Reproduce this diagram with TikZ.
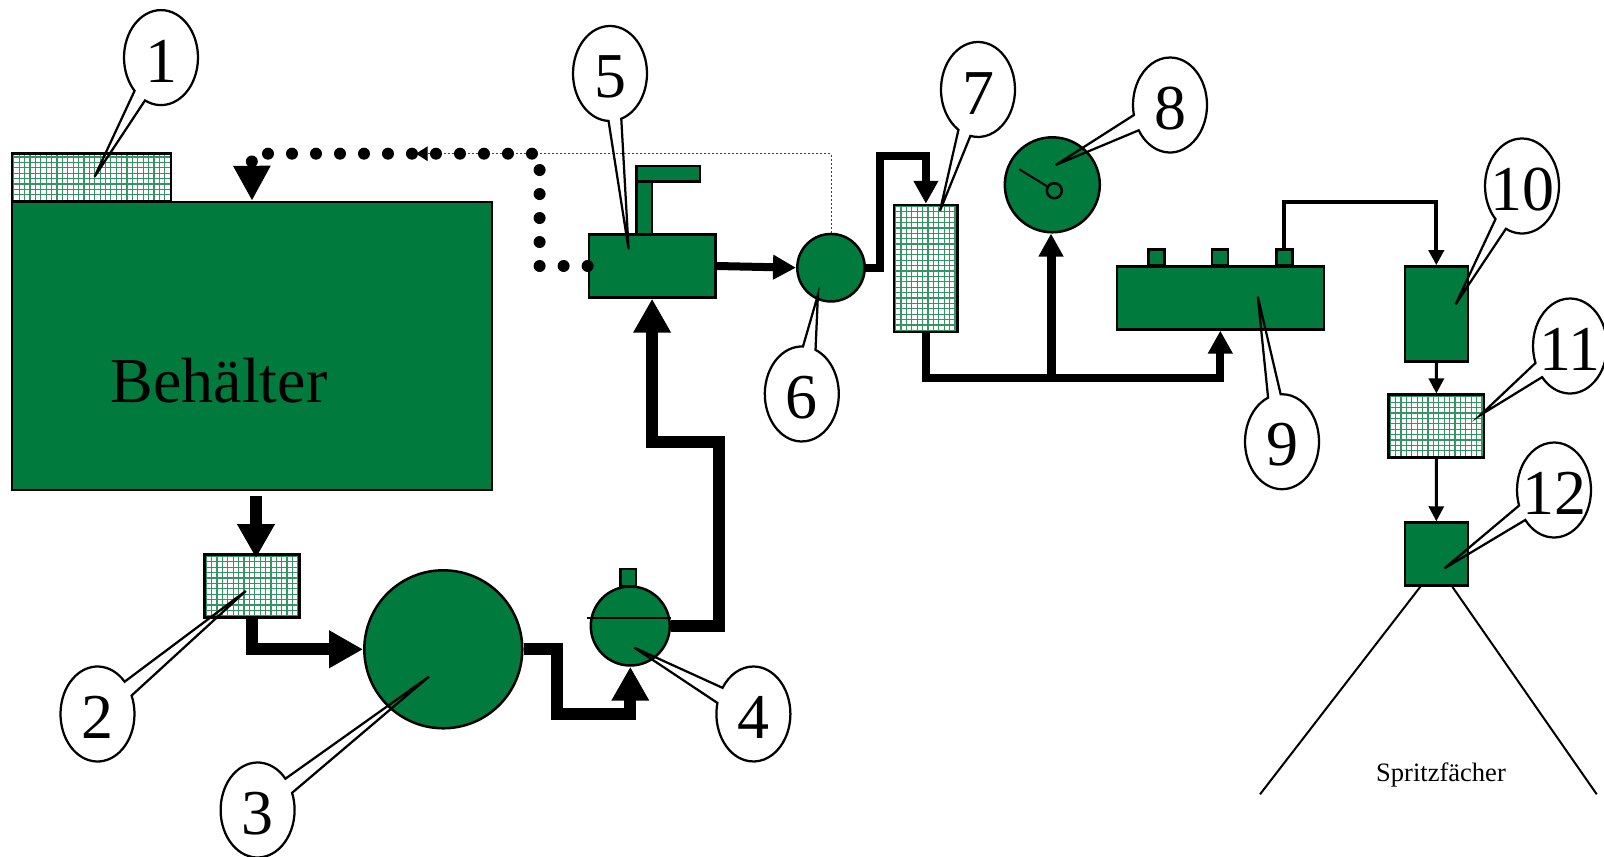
\documentclass[tikz,border=0pt]{standalone}
\usepackage{fontspec}
\setmainfont{Liberation Serif}
\usetikzlibrary{arrows.meta,shapes.callouts}
\definecolor{tankgreen}{RGB}{0,122,61}
\tikzset{
  greenbox/.style={draw,fill=tankgreen,line width=0.05cm,inner sep=0pt},
  gridline/.style={tankgreen!80,line width=0.024cm},
  gridbox/.style={draw,line width=0.05cm,inner sep=0pt,
    path picture={
      \foreach \gk in {0,...,31} {
        \draw[gridline] ([xshift=\gk*0.108cm+0.03cm]path picture bounding box.south west) -- ([xshift=\gk*0.108cm+0.03cm]path picture bounding box.north west);
        \draw[gridline] ([yshift=\gk*0.108cm+0.03cm]path picture bounding box.south west) -- ([yshift=\gk*0.108cm+0.03cm]path picture bounding box.south east);
      }
    }},
  numtag/.style={ellipse callout,draw,line width=0.045cm,callout pointer arc=20,
    minimum width=1.48cm,minimum height=1.9cm,inner sep=0pt,text height=28pt,
    font=\fontsize{36.4}{40}\selectfont},
  flowheavy/.style={line width=0.24cm,-{Triangle[length=0.68cm,width=0.71cm]}},
  flowmedium/.style={line width=0.16cm,-{Triangle[length=0.46cm,width=0.47cm]}},
  flowlight/.style={line width=0.08cm,-{Triangle[length=0.3cm,width=0.3cm]}},
  flowthin/.style={line width=0.06cm,-{Triangle[length=0.3cm,width=0.3cm]}},
}
\begin{document}
\begin{tikzpicture}[x=0.02cm,y=-0.02cm]
  \useasboundingbox (0,0) rectangle (1604,857);

  % Drawing tank and filler
  \node[gridbox,minimum width=3.18cm,minimum height=0.96cm] (filler) at (91.7,177.7) {};
  \node[greenbox,minimum width=9.6cm,minimum height=5.76cm] (tank) at (252,346) {};
  \node[font=\fontsize{36.4}{40}\selectfont] (tanklabel) at (219,381) {Behälter};

  % Drawing filter 2, accumulator 3 and pump 4
  \node[gridbox,minimum width=1.9cm,minimum height=1.26cm] (filtertwo) at (252.1,585.8) {};
  \node[greenbox,circle,minimum size=3.16cm] (accu) at (443.3,649.3) {};
  \node[greenbox,minimum width=0.31cm,minimum height=0.34cm] (pumpcap) at (628.2,577.7) {};
  \node[greenbox,circle,minimum size=1.58cm] (pump) at (630.3,626) {};
  \coordinate (pumpbar) at (587,617.7);
  \draw[line width=0.04cm] (pumpbar) -- (pumpbar -| pump.east);

  % Drawing valve 5
  \node[greenbox,minimum width=0.31cm,minimum height=1.04cm] (valvestem) at (644.2,208) {};
  \node[greenbox,minimum width=1.27cm,minimum height=0.31cm] (valvetop) at (668.2,174) {};
  \node[greenbox,minimum width=2.53cm,minimum height=1.26cm] (valve) at (652.1,266) {};

  % Drawing circle 6, filter 7 and gauge 8
  \node[greenbox,circle,minimum size=1.35cm] (split) at (831,267.7) {};
  \node[gridbox,minimum width=1.27cm,minimum height=2.54cm] (filterseven) at (925.9,268.5) {};
  \node[greenbox,circle,minimum size=1.9cm] (gauge) at (1052.3,184.8) {};
  \node[greenbox,circle,minimum size=0.3cm] (gaugehub) at (1054.3,190.7) {};
  \coordinate (needle) at (1019.3,169.3);
  \draw[line width=0.04cm] (needle) -- (gaugehub);

  % Drawing manifold 9
  \node[greenbox,minimum width=0.32cm,minimum height=0.32cm] (buma) at (1156.4,257.7) {};
  \node[greenbox,minimum width=0.32cm,minimum height=0.32cm] (bumb) at (1220.1,257.7) {};
  \node[greenbox,minimum width=0.32cm,minimum height=0.32cm] (bumc) at (1284.3,257.7) {};
  \node[greenbox,minimum width=4.14cm,minimum height=1.26cm] (manifold) at (1220.3,297.9) {};

  % Drawing boxes 10, 11 and nozzle 12
  \node[greenbox,minimum width=1.26cm,minimum height=1.9cm] (metering) at (1436.3,313.9) {};
  \node[gridbox,minimum width=1.91cm,minimum height=1.26cm] (filtereleven) at (1436.4,426.2) {};
  \node[greenbox,minimum width=1.26cm,minimum height=1.26cm] (nozzle) at (1436.3,554) {};

  % Drawing spray fan
  \coordinate (fanleft) at (1260,794.3);
  \coordinate (fanright) at (1596.7,794.3);
  \draw[line width=0.04cm] ([xshift=-0.32cm]nozzle.south) -- (fanleft);
  \draw[line width=0.04cm] ([xshift=0.32cm]nozzle.south) -- (fanright);
  \node[font=\fontsize{15.1}{18}\selectfont] (fanlabel) at (1441,775) {Spritzfächer};

  % Drawing return lines
  \coordinate (returntip) at (416,153.7);
  \draw[black!75,line width=0.02cm,dash pattern=on 0.04cm off 0.04cm,-{Triangle[length=0.23cm,width=0.29cm,black]}] (split.north) |- (returntip);
  \draw[line width=0.24cm,line cap=round,dash pattern=on 0pt off 0.48cm,-{Triangle[length=0.7cm,width=0.7cm]}] (valve.west) -- (539.6,266) -- (539.6,153.7) -- (251.8,153.7) -- (tank.north);

  % Drawing suction and pressure lines
  \coordinate (tankout) at (256,496);
  \coordinate (filterin) at (256,558);
  \draw[flowheavy] (tankout) -- (filterin);
  \draw[flowheavy] (filtertwo.south) |- (accu.west);
  \draw[flowheavy] (accu.east) -- (557.3,649.3) -- (557.3,714) -| (pump.south);
  \draw[flowheavy] (pump.east) -- (719,626) -- (719,442) -| (valve.south);

  % Drawing lines behind the valve
  \coordinate (junction) at (1051,378);
  \draw[flowmedium] (valve.east) -- (split.west);
  \draw[flowmedium] (split.east) -- (879.7,267.7) -- (879.7,156.3) -| (filterseven.north);
  \draw[line width=0.16cm] (filterseven.south) |- (junction);
  \draw[flowmedium,line width=0.18cm] (junction) -- (junction |- gauge.south);
  \draw[flowmedium] (junction) -| (manifold.south);

  % Drawing lines to the nozzle
  \draw[flowlight] (bumc.north) -- (1284.3,202) -| (metering.north);
  \draw[flowthin] (metering.south) -- (filtereleven.north);
  \draw[flowthin] (filtereleven.south) -- (nozzle.north);

  % Marking numbered tags
  \node[numtag,callout absolute pointer={(94.6,176.7)}] (tagone) at (161,57.6) {1};
  \node[numtag,callout absolute pointer={(245.8,591)}] (tagtwo) at (97.5,714) {2};
  \node[numtag,callout absolute pointer={(428.9,676.7)}] (tagthree) at (257.6,810) {3};
  \node[numtag,callout absolute pointer={(634.4,647.7)}] (tagfour) at (753.4,714) {4};
  \node[numtag,callout absolute pointer={(628.6,249.3)}] (tagfive) at (610,73.5) {5};
  \node[numtag,callout absolute pointer={(817.9,295)}] (tagsix) at (801.8,394) {6};
  \node[numtag,callout absolute pointer={(940,210.7)}] (tagseven) at (978,89.5) {7};
  \node[numtag,callout absolute pointer={(1055.7,165)}] (tageight) at (1170,105) {8};
  \node[numtag,callout absolute pointer={(1257.8,296.7)}] (tagnine) at (1282,441.7) {9};
  \node[numtag,callout absolute pointer={(1455.6,304.3)}] (tagten) at (1522,186) {\makebox[0pt]{10}};
  \node[numtag,callout absolute pointer={(1480.5,415)}] (tageleven) at (1570,346) {\makebox[0pt]{11}};
  \node[numtag,callout absolute pointer={(1444.5,568.3)}] (tagtwelve) at (1554,490) {\makebox[0pt]{12}};
\end{tikzpicture}
\end{document}
